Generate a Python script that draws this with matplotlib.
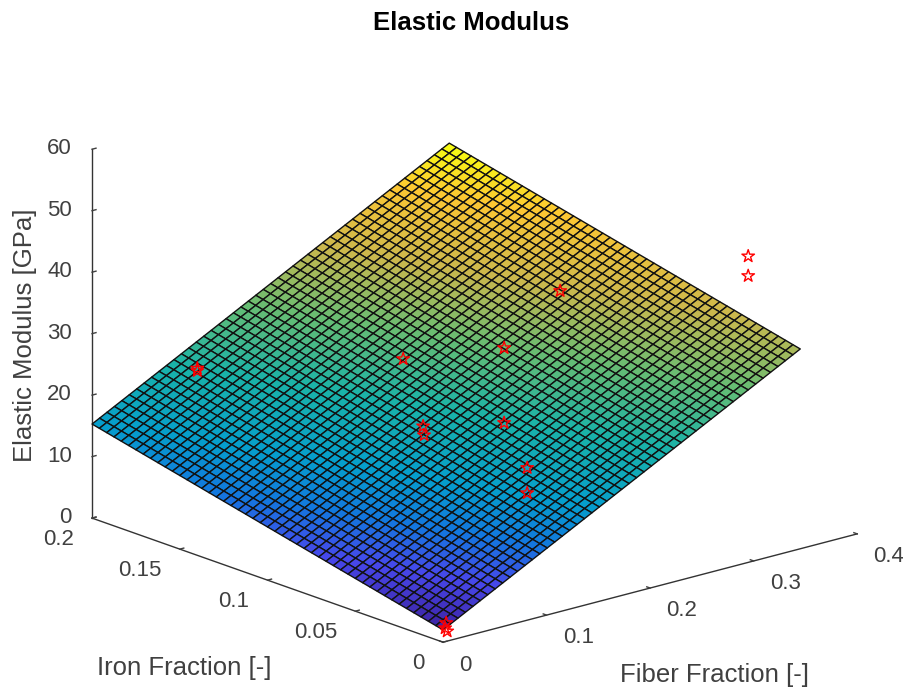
import numpy as np
import matplotlib
matplotlib.use("Agg")
import matplotlib.pyplot as plt
from matplotlib.colors import LinearSegmentedColormap

plt.rcParams['font.family'] = ['Liberation Sans', 'DejaVu Sans']

# tick labels
fiber_ticks = [0, 0.1, 0.2, 0.3, 0.4]
fiber_labels = ['0', '0.1', '0.2', '0.3', '0.4']
iron_ticks = [0, 0.05, 0.1, 0.15, 0.2]
iron_labels = ['0', '0.05', '0.1', '0.15', '0.2']
mod_ticks = [0, 10, 20, 30, 40, 50, 60]

# measured samples
fiber_pts = [0.002, 0.004, 0.003, 0.166, 0.166, 0.1437, 0.0655, 0.0664, 0.131, 0.2285, 0.2826, 0.2947, 0.2947, 0.0, 0.0]
iron_pts = [0.0, 0.0, 0.0, 0.05, 0.05, 0.05, 0.05, 0.05, 0.1, 0.1, 0.1, 0.0, 0.0, 0.14, 0.14]
mod_pts = [2.2, 1.6, 3.0, 11.9, 16.0, 24.3, 27.2, 25.7, 30.2, 27.7, 34.6, 49.8, 46.6, 30.4, 30.0]

# regression plane, heights read at its corners
fiber_max = 0.345
iron_max = 0.2
h00 = 2.0
h10 = 32.5
h01 = 15.3
n_cells = 48

parula = LinearSegmentedColormap.from_list("parula", [
    (0.0, (0.2422, 0.1504, 0.6603)), (0.1, (0.28, 0.28, 0.92)), (0.2, (0.07, 0.47, 0.87)),
    (0.3, (0.02, 0.62, 0.80)), (0.45, (0.10, 0.70, 0.66)), (0.6, (0.40, 0.74, 0.45)),
    (0.75, (0.80, 0.72, 0.30)), (0.9, (0.99, 0.78, 0.20)), (1.0, (0.97, 0.98, 0.08))])

fx = np.linspace(0, fiber_max, n_cells + 1)
fy = np.linspace(0, iron_max, n_cells + 1)
X, Y = np.meshgrid(fx, fy)
Z = h00 + (h10 - h00) * X / fiber_max + (h01 - h00) * Y / iron_max

fig = plt.figure(figsize=(9.04, 6.91), dpi=100)
ax = fig.add_axes([0.0147, -0.0078, 1, 1], projection='3d', proj_type='ortho', computed_zorder=False)
ax.patch.set_alpha(0)
ax.view_init(elev=17.7, azim=-130.7)
ax.set_box_aspect((546, 538, 387), zoom=1.207)

surf = ax.plot_surface(X, Y, Z, cmap=parula, rcount=n_cells + 1, ccount=n_cells + 1,
                       edgecolor='#111111', linewidth=1.0, antialiased=True, shade=False)
surf.set_clip_on(False)
stars = ax.scatter(fiber_pts, iron_pts, mod_pts, marker='*', s=90, facecolors='none',
                   edgecolors='red', linewidths=1.0, depthshade=False)
stars.set_clip_on(False)

ax.set_xlim(0, 0.4, view_margin=0)
ax.set_ylim(0, 0.2, view_margin=0)
ax.set_zlim(0, 60, view_margin=0)
ax.set_xticks(fiber_ticks)
ax.set_xticklabels(fiber_labels)
ax.set_yticks(iron_ticks)
ax.set_yticklabels(iron_labels)
ax.set_zticks(mod_ticks)
ax.tick_params(labelsize=16, labelcolor='#404040', color='#404040')
ax.tick_params(axis='x', pad=4)
ax.tick_params(axis='z', pad=-1.2)
ax.grid(False)
for a in (ax.xaxis, ax.yaxis, ax.zaxis):
    a.set_pane_color((1, 1, 1, 0))
    a.line.set_color('#333333')
    a.line.set_linewidth(1.0)
    a._axinfo['tick']['inward_factor'] = 0
    a._axinfo['tick']['outward_factor'] = 0.12
    a._axinfo['tick']['linewidth'] = {True: 1.0, False: 0.5}
plt.setp(ax.get_xticklabels(), va='center', ha='left')
plt.setp(ax.get_yticklabels(), va='center', ha='right')
plt.setp(ax.get_zticklabels(), va='center', ha='right')

fig.text(0.521, 0.967, 'Elastic Modulus', fontsize=18.5, fontweight='bold',
         ha='center', va='center', color='black')
fig.text(0.204, 0.033, 'Iron Fraction [-]', fontsize=18.5, ha='center', va='center', color='#404040')
fig.text(0.79, 0.023, 'Fiber Fraction [-]', fontsize=18.5, ha='center', va='center', color='#404040')
fig.text(0.028, 0.515, 'Elastic Modulus [GPa]', fontsize=18.5, rotation=90, ha='center', va='center', color='#404040')

fig.savefig('out.png', dpi=100)
